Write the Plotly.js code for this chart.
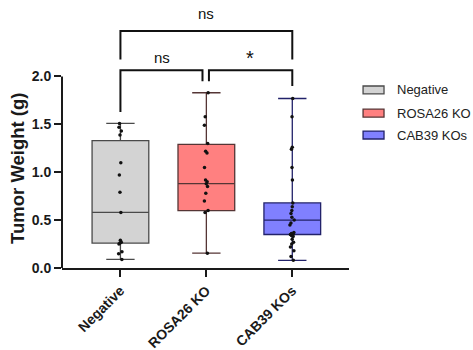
<!DOCTYPE html>
<html><head><meta charset="utf-8">
<script src="https://cdn.plot.ly/plotly-3.0.1.min.js"></script>
<style>body{margin:0;background:#fff}#c{width:473px;height:350px}</style>
</head><body><div id="c"></div>
<script>
const groups = ['Negative', 'ROSA26 KO', 'CAB39 KOs'];
const q1 = [0.26, 0.60, 0.35];
const medians = [0.58, 0.88, 0.50];
const q3 = [1.33, 1.29, 0.68];
const lowerWhisker = [0.09, 0.155, 0.08];
const upperWhisker = [1.51, 1.83, 1.77];
const negPoints = [1.51, 1.47, 1.43, 1.39, 1.10, 0.97, 0.79, 0.58, 0.29, 0.27, 0.26, 0.25, 0.17, 0.15, 0.09];
const rosaPoints = [1.83, 1.58, 1.49, 1.30, 1.22, 1.20, 1.05, 0.92, 0.90, 0.88, 0.85, 0.78, 0.70, 0.60, 0.58, 0.155];
const cabPoints = [1.77, 1.58, 1.26, 1.24, 1.05, 0.92, 0.68, 0.64, 0.60, 0.57, 0.53, 0.50, 0.47, 0.45, 0.37, 0.36, 0.35, 0.35, 0.34, 0.33, 0.30, 0.27, 0.25, 0.22, 0.18, 0.12, 0.08];
const yTicks = [0, 0.5, 1.0, 1.5, 2.0];

const fills = ['#d3d3d3', '#ff8080', '#8080ff'];
const lines = ['#4a4a4a', '#553535', '#22226a'];
const pointSets = [negPoints, rosaPoints, cabPoints];
const FONT = 'Liberation Sans, Arial, sans-serif';

const traces = [];
groups.forEach((g, i) => {
  traces.push({
    type: 'box', name: g, x: [g],
    q1: [q1[i]], median: [medians[i]], q3: [q3[i]],
    lowerfence: [lowerWhisker[i]], upperfence: [upperWhisker[i]],
    fillcolor: fills[i], line: {color: lines[i], width: 1.3},
    width: 0.66, whiskerwidth: 0.5, boxpoints: false,
    showlegend: false, hoverinfo: 'skip'
  });
});
groups.forEach((g, i) => {
  traces.push({
    type: 'box', name: g + ' pts', x: pointSets[i].map(() => g), y: pointSets[i],
    boxpoints: 'all', jitter: 0.1, pointpos: 0, width: 0.66,
    fillcolor: 'rgba(0,0,0,0)', line: {color: 'rgba(0,0,0,0)', width: 0},
    marker: {color: '#111', size: 3.5}, showlegend: false, hoverinfo: 'skip'
  });
});

const shapes = [
  {type: 'line', xref: 'paper', yref: 'y', x0: 0, x1: 0, y0: 0, y1: yTicks[yTicks.length-1], line: {color: '#1a1a1a', width: 2}},
  {type: 'path', xref: 'x', yref: 'y', path: 'M0,2.177 L0,2.475 L2,2.475 L2,2.177', line: {color: '#111', width: 2}},
  {type: 'path', xref: 'x', yref: 'y', path: 'M0,1.63 L0,2.066 L0.955,2.066 L0.955,1.95', line: {color: '#111', width: 2}},
  {type: 'path', xref: 'x', yref: 'y', path: 'M1.03,1.95 L1.03,2.066 L2,2.066 L2,1.90', line: {color: '#111', width: 2}}
];
const annotations = [
  {x: 1, y: 2.545, xref: 'x', yref: 'y', yanchor: 'bottom', text: 'ns', showarrow: false, font: {family: FONT, size: 15, color: '#111'}},
  {x: 0.48, y: 2.20, xref: 'x', yref: 'y', text: 'ns', showarrow: false, font: {family: FONT, size: 15, color: '#111'}},
  {x: 1.51, y: 2.19, xref: 'x', yref: 'y', text: '*', showarrow: false, font: {family: FONT, size: 20, color: '#111'}},
  {x: -0.155, y: 1.04, xref: 'paper', yref: 'y', xanchor: 'center', yanchor: 'middle', textangle: -90, text: 'Tumor Weight (g)', showarrow: false,
    font: {family: FONT, size: 18.5, color: '#1a1a1a', weight: 'bold'}}
];
const legY = [0.715, 0.622, 0.534];
groups.forEach((g, i) => {
  shapes.push({type: 'rect', xref: 'paper', yref: 'paper', x0: 1.049, x1: 1.122, y0: legY[i] - 0.016, y1: legY[i] + 0.016,
    fillcolor: fills[i], line: {color: lines[i], width: 1.3}});
  annotations.push({x: 1.160, y: legY[i], xref: 'paper', yref: 'paper', xanchor: 'left', yanchor: 'middle',
    text: g, showarrow: false, font: {family: FONT, size: 13, color: '#222'}});
});

const layout = {
  width: 473, height: 350,
  margin: {l: 62, r: 124, t: 19, b: 82},
  paper_bgcolor: '#fff', plot_bgcolor: '#fff',
  showlegend: false, boxmode: 'overlay',
  font: {family: FONT, color: '#1a1a1a'},
  xaxis: {
    type: 'category', categoryarray: groups, categoryorder: 'array',
    range: [-0.68, 2.66], showline: true, linewidth: 2, linecolor: '#1a1a1a',
    ticks: 'outside', ticklen: 7, tickwidth: 2, tickcolor: '#1a1a1a',
    tickangle: -45, showgrid: false, zeroline: false,
    tickfont: {family: FONT, size: 14, color: '#1a1a1a', weight: 'bold'}
  },
  yaxis: {
    range: [0, 2.6], tickvals: yTicks, tickformat: '.1f',
    showline: false, ticks: 'outside', ticklen: 7, tickwidth: 2, tickcolor: '#1a1a1a',
    showgrid: false, zeroline: false,
    tickfont: {family: FONT, size: 14, color: '#1a1a1a', weight: 'bold'}
  },
  shapes: shapes, annotations: annotations
};
Plotly.newPlot('c', traces, layout, {staticPlot: true, displayModeBar: false});
</script></body></html>
